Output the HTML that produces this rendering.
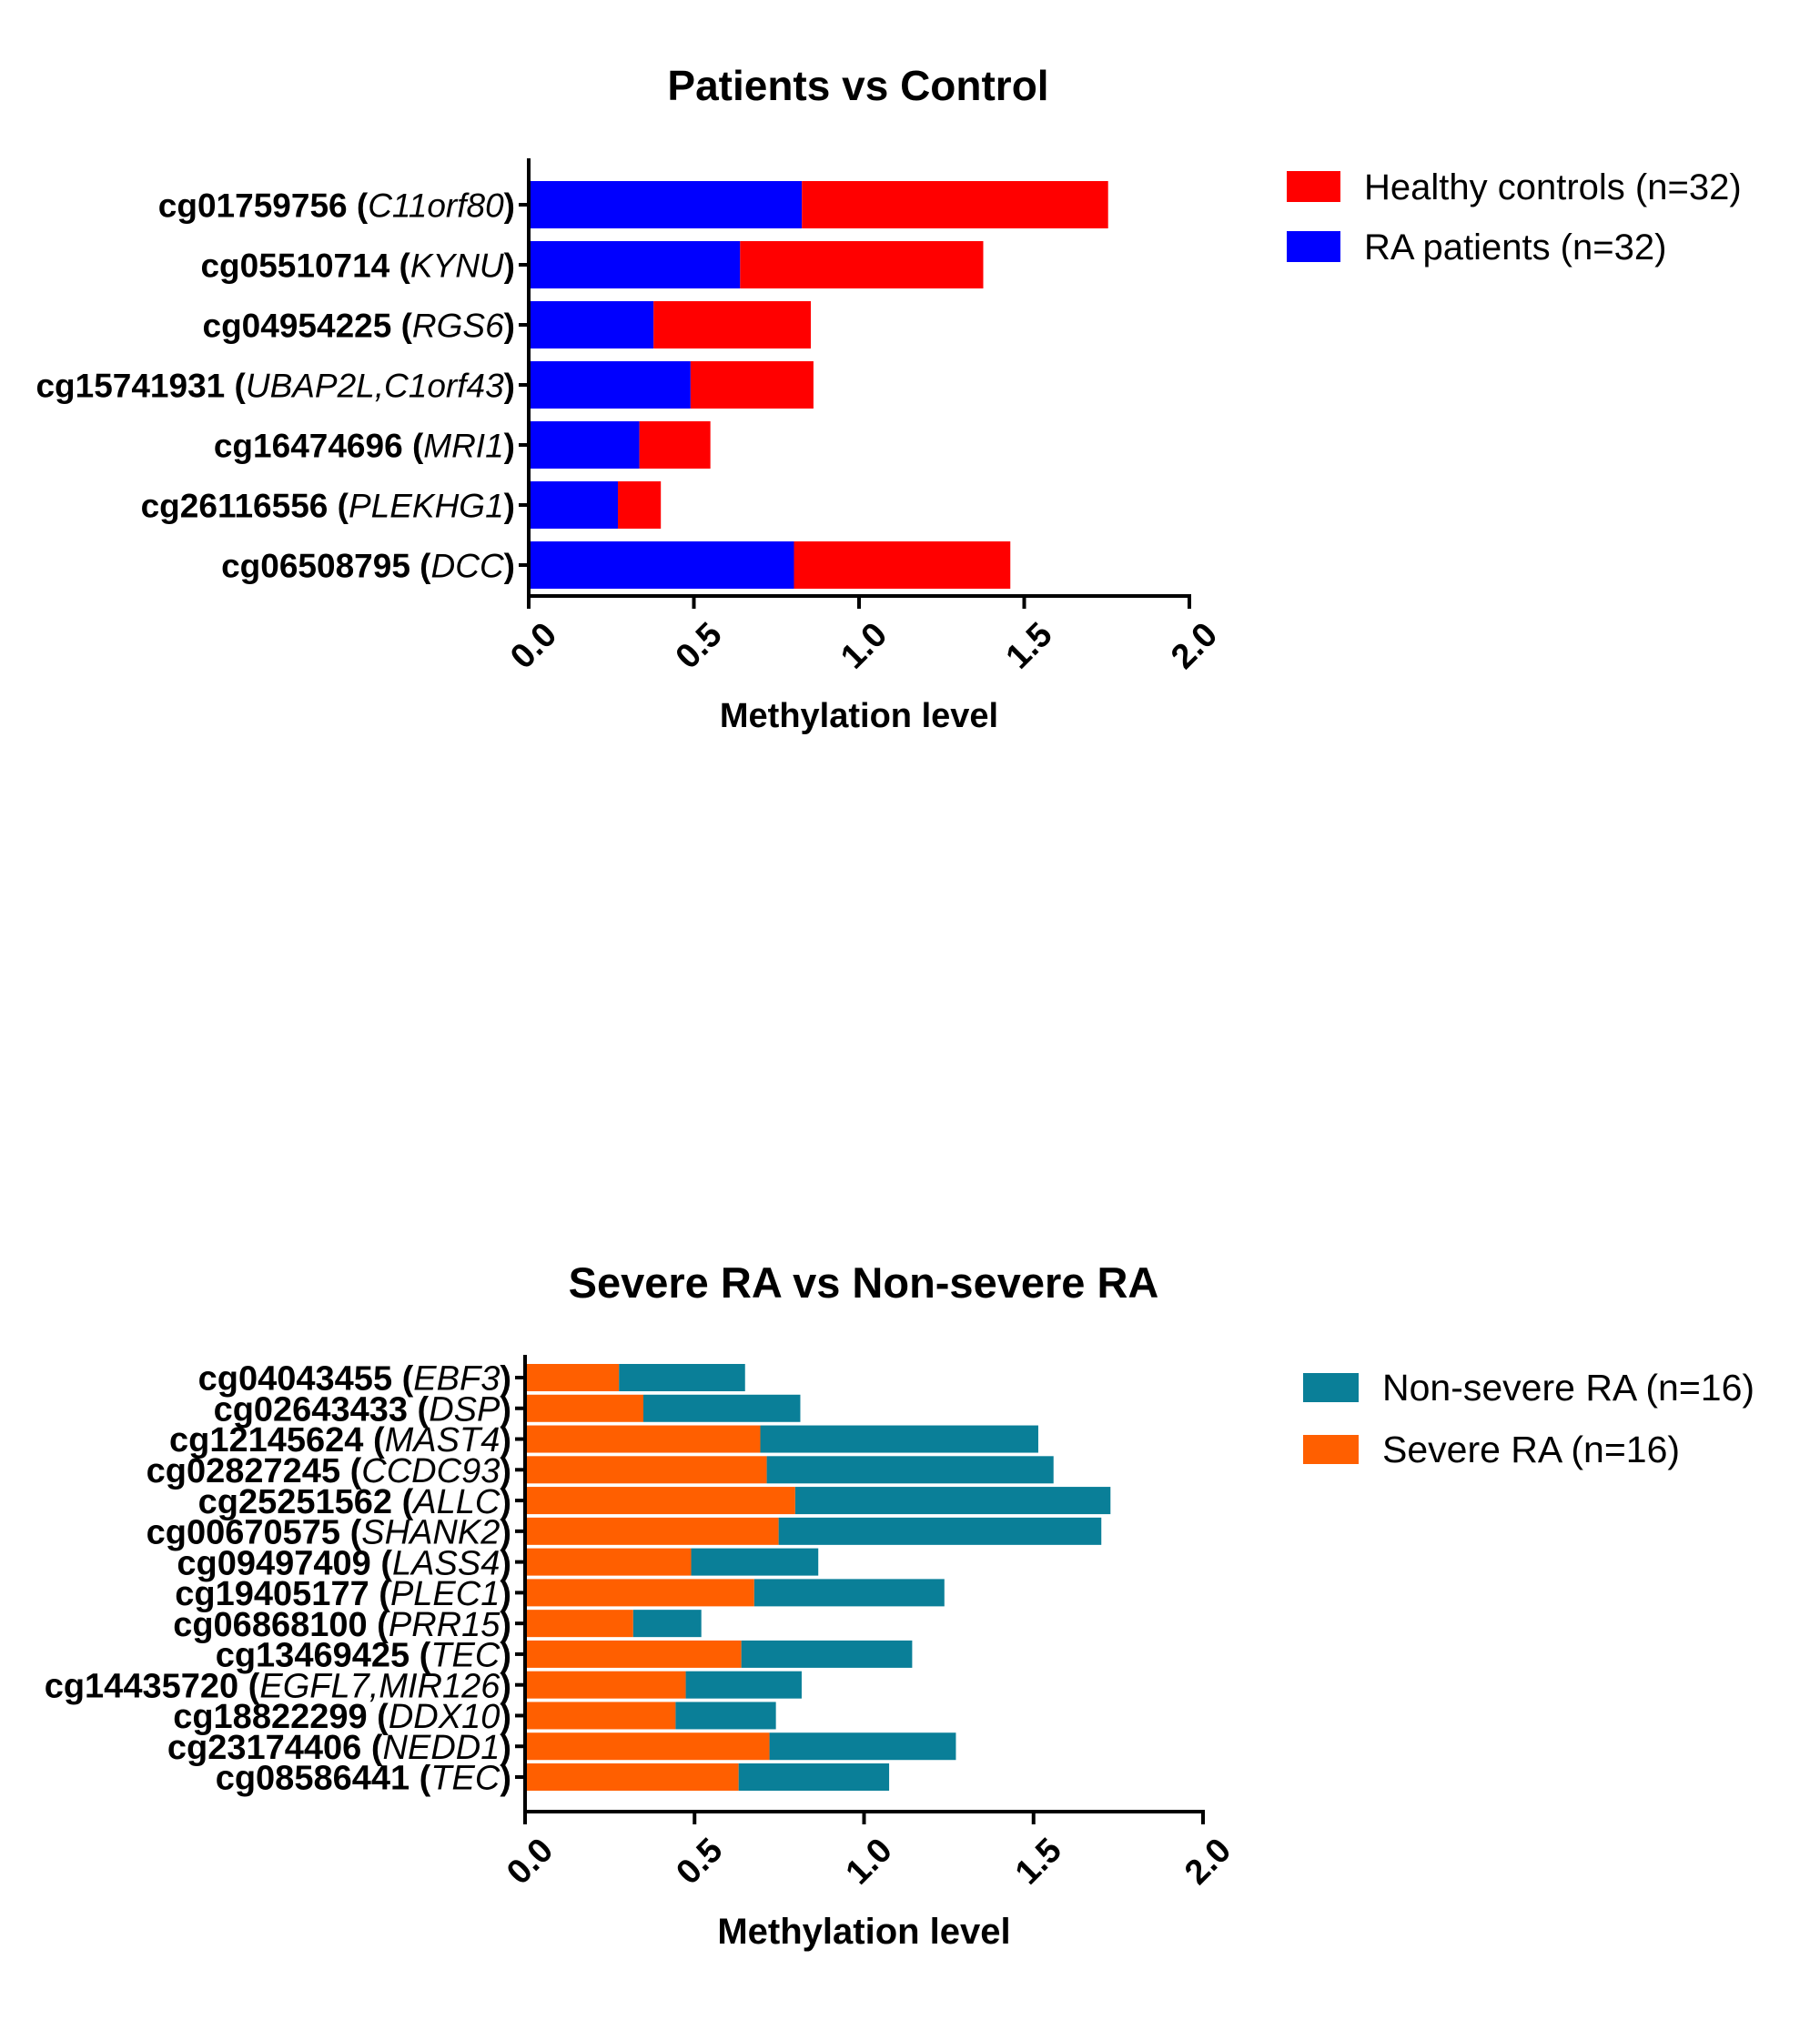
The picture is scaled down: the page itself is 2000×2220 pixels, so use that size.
<!DOCTYPE html>
<html><head><meta charset="utf-8"><style>
html,body{margin:0;padding:0;background:#fff;}
svg{display:block;font-family:"Liberation Sans",Arial,sans-serif;}
</style></head><body>
<svg id="chart" width="2000" height="2220" viewBox="0 0 2000 2220" xmlns="http://www.w3.org/2000/svg"></svg>
<script>
// Top chart data
const topIds = ["cg01759756","cg05510714","cg04954225","cg15741931","cg16474696","cg26116556","cg06508795"];
const topGenes = ["C11orf80","KYNU","RGS6","UBAP2L,C1orf43","MRI1","PLEKHG1","DCC"];
const topPatients = [0.827,0.64,0.378,0.49,0.335,0.27,0.803];
const topControls = [0.927,0.736,0.476,0.372,0.215,0.13,0.655];
// Bottom chart data
const botIds = ["cg04043455","cg02643433","cg12145624","cg02827245","cg25251562","cg00670575","cg09497409","cg19405177","cg06868100","cg13469425","cg14435720","cg18822299","cg23174406","cg08586441"];
const botGenes = ["EBF3","DSP","MAST4","CCDC93","ALLC","SHANK2","LASS4","PLEC1","PRR15","TEC","EGFL7,MIR126","DDX10","NEDD1","TEC"];
const botSevere = [0.277,0.349,0.694,0.713,0.797,0.748,0.490,0.676,0.319,0.638,0.474,0.444,0.721,0.630];
const botNonSevere = [0.372,0.463,0.820,0.846,0.930,0.952,0.375,0.561,0.201,0.504,0.342,0.296,0.550,0.444];
const ticks = [0,0.5,1,1.5,2];
const tickLabels = ["0.0","0.5","1.0","1.5","2.0"];

const NS="http://www.w3.org/2000/svg";
const svg=document.getElementById('chart');
function mk(tag,attrs,parent){const e=document.createElementNS(NS,tag);for(const k in attrs)e.setAttribute(k,attrs[k]);(parent||svg).appendChild(e);return e;}

function drawChart(cfg){
  const g=mk('g',{});
  
  
  const x=v=>cfg.x0+(v/2)*(cfg.x1-cfg.x0);
  const n=cfg.ids.length;
  const y=i=>cfg.yFirst+i*(cfg.yLast-cfg.yFirst)/(n-1);
  const t=mk('text',{x:cfg.titleX,y:cfg.titleY,'text-anchor':'middle','font-size':cfg.tfs,'font-weight':'bold'},g);
  t.textContent=cfg.title;
  
  
  for(let i=0;i<n;i++){
    const a=cfg.first[i], b=cfg.second[i];
    const r1=mk('rect',{x:x(0),y:y(i)-cfg.bh/2,width:x(a)-x(0),height:cfg.bh,fill:cfg.c1},g);
    
    
    const r2=mk('rect',{x:x(a),y:y(i)-cfg.bh/2,width:x(a+b)-x(a),height:cfg.bh,fill:cfg.c2},g);
    
    
    mk('line',{x1:cfg.x0-11,x2:cfg.x0,y1:y(i),y2:y(i),stroke:'#000','stroke-width':4},g);
    const lt=mk('text',{x:cfg.x0-15,y:y(i)+cfg.lfs*0.36,'text-anchor':'end','font-size':cfg.lfs,'font-weight':'bold'},g);
    
    
    const s1=mk('tspan',{},lt);s1.textContent=cfg.ids[i]+' (';
    const s2=mk('tspan',{'font-style':'italic','font-weight':'normal'},lt);s2.textContent=cfg.genes[i];
    const s3=mk('tspan',{},lt);s3.textContent=')';
  }
  mk('line',{x1:cfg.x0,x2:cfg.x0,y1:cfg.yTop,y2:cfg.yBase+2,stroke:'#000','stroke-width':4},g);
  const xa=mk('line',{x1:cfg.x0-2,x2:cfg.x1+2,y1:cfg.yBase,y2:cfg.yBase,stroke:'#000','stroke-width':4},g);
  
  
  ticks.forEach((v,k)=>{
    mk('line',{x1:x(v),x2:x(v),y1:cfg.yBase,y2:cfg.yBase+14,stroke:'#000','stroke-width':4},g);
    const tx=x(v)+14, ty=cfg.yBase+26;
    const tl=mk('text',{x:tx,y:ty,'text-anchor':'end','font-size':38,'font-weight':'bold',transform:`rotate(-45 ${tx} ${ty})`,dy:'0.7em'},g);
    tl.textContent=tickLabels[k];
    
    
  });
  const at=mk('text',{x:(cfg.x0+cfg.x1)/2,y:cfg.axisTitleY,'text-anchor':'middle','font-size':cfg.atfs,'font-weight':'bold'},g);
  at.textContent='Methylation level';
  
  
  cfg.legend.forEach((L,k)=>{
    const ly=cfg.legY+k*cfg.legGap;
    const sw=mk('rect',{x:cfg.legX,y:ly,width:cfg.swW,height:cfg.swH,fill:L.c},g);
    
    
    const lt=mk('text',{x:cfg.legX+cfg.swW+26,y:ly+cfg.swH/2+14,'font-size':cfg.legfs},g);
    lt.textContent=L.t;
    
    
  });
}

drawChart({name:'patients-vs-control-chart',title:'Patients vs Control',titleX:943,titleY:110,tfs:46,
  ids:topIds,genes:topGenes,first:topPatients,second:topControls,c1:'#0000ff',c2:'#ff0000',short1:'ra',short2:'control',
  x0:581,x1:1307,yTop:174,yBase:655,yFirst:225,yLast:621,bh:52,lfs:37,atfs:38,axisTitleY:799,
  legX:1414,legY:188,legGap:66,swW:59,swH:34,legfs:40,
  legend:[{c:'#ff0000',t:'Healthy controls (n=32)'},{c:'#0000ff',t:'RA patients (n=32)'}]});

drawChart({name:'severe-vs-nonsevere-chart',title:'Severe RA vs Non-severe RA',titleX:949,titleY:1426,tfs:47,
  ids:botIds,genes:botGenes,first:botSevere,second:botNonSevere,c1:'#ff5f00',c2:'#0a7f98',short1:'severe',short2:'nonsevere',
  x0:577,x1:1322,yTop:1489,yBase:1991,yFirst:1514,yLast:1953,bh:30,lfs:38,atfs:40,axisTitleY:2136,
  legX:1432,legY:1509,legGap:68,swW:61,swH:32,legfs:41,
  legend:[{c:'#0a7f98',t:'Non-severe RA (n=16)'},{c:'#ff5f00',t:'Severe RA (n=16)'}]});
</script>
</body></html>
